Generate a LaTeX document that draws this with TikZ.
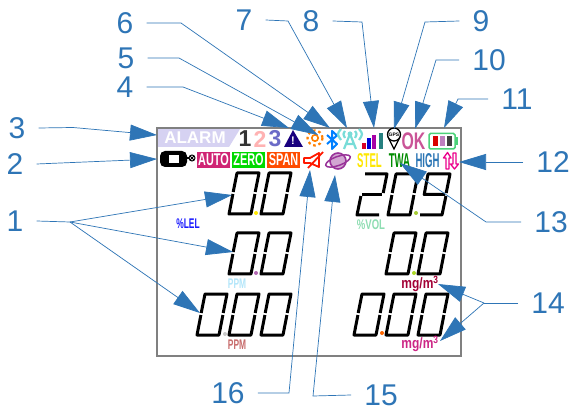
\documentclass[tikz,border=0pt]{standalone}
\usepackage{fontspec}
\setmainfont{Liberation Sans}
\usetikzlibrary{arrows.meta}
\definecolor{leadblue}{HTML}{2E75B6}
\definecolor{alarmbg}{HTML}{D6D2F2}
\definecolor{antenna}{HTML}{78DCD8}
\definecolor{volgreen}{HTML}{8EDDB2}
\newcommand{\fsize}[1]{\fontsize{#1}{#1}\selectfont}
\newcommand{\narrowtxt}[2]{\scalebox{#1}[1]{#2}}
\tikzset{
  numlabel/.style={text=leadblue,font=\fsize{30},inner xsep=13pt,inner ysep=0pt},
  leader/.style={draw=leadblue,line width=.7pt,-{Triangle[length=27pt,width=16pt,fill=leadblue]}},
  lcdseg/.style={draw=black,line width=3pt,line join=round,line cap=butt},
  icontxt/.style={inner sep=0pt},
  statebox/.style={inner sep=0pt,minimum width=33pt,minimum height=15.5pt,text=white,font=\fsize{17}\bfseries},
  pics/lcdzero/.style={code={
    \draw[lcdseg] (3.9,-20) -- (0,0) -- (22,0) -- (25.9,-20);
    \draw[lcdseg] (4.2,-22) -- (8,-41) -- (30,-41) -- (26.2,-22);}},
  pics/lcdtwo/.style={code={
    \draw[lcdseg] (8,-41) -- (30,-41) -- (26.2,-22);
    \draw[lcdseg] (5,-20.5) -- (25,-20.5);
    \draw[lcdseg] (3.9,-19) -- (0,0) -- (22,0);}},
  pics/lcdnine/.style={code={
    \draw[lcdseg] (25,-20.5) -- (4.2,-20.5) -- (8,-41) -- (30,-41) -- (26.2,-22);
    \draw[lcdseg] (25.9,-19) -- (22,0) -- (0,0);}}
}
\begin{document}
\begin{tikzpicture}[x=1pt,y=-1pt]
  \useasboundingbox (0,0) rectangle (572,411);
  \fill[white] (0,0) rectangle (572,411);
  \fill[alarmbg] (158,129) -- (240,129) -- (229,147) -- (158,147) -- cycle;
  \draw[gray,line width=1.3pt] (157,128) rectangle (461,356);
  \node[icontxt,text=white,font=\fsize{17}\bfseries] (alarm) at (195,138) {ALARM};
  \node[icontxt,text=black!80,font=\fsize{23}\bfseries] (one) at (245,139) {1};
  \node[icontxt,text=red!30!white,font=\fsize{23}\bfseries] (two) at (260,139) {2};
  \node[icontxt,text=blue!45!gray!80,font=\fsize{23}\bfseries] (three) at (275,139) {3};
  \fill[blue!55!black!90!red] (293,130) -- (303,147) -- (284,147) -- cycle;
  \node[icontxt,text=white,font=\fsize{11}\bfseries] (warn) at (293,141) {!};
  \draw[orange,line width=2.2pt,dash pattern=on 2.6pt off 2.9pt] (315,138) circle (7.5);
  \draw[orange,line width=1.6pt] (315,138) circle (3.2);
  \draw[blue!50!cyan,line width=2pt,line join=round] (327,135) -- (337,144) -- (332,149) -- (332,131) -- (337,135.5) -- (327,144);
  \draw[antenna,line width=2.2pt] (344,149) -- (350,134) -- (356,149) (346,144) -- (354,144)
    (345,131) .. controls (343,134) .. (345,138) (355,131) .. controls (357,134) .. (355,138)
    (341,129) .. controls (337,134) .. (341,140) (359,129) .. controls (363,134) .. (359,140);
  \fill[antenna] (350,134) circle (2.5);
  \fill[red!85!blue] (361.5,143) rectangle (365.5,149);
  \fill[blue!85!black] (366.5,138) rectangle (370.5,149);
  \fill[violet!70!magenta] (371.5,135) rectangle (375.5,149);
  \fill[teal!70!gray] (379,133) rectangle (383,149);
  \draw[black,line width=1.2pt,fill=white] (388.5,138) -- (394,149) -- (399.5,138) -- cycle;
  \draw[black,line width=1.3pt,fill=white] (394,134.5) circle (6.5);
  \node[icontxt,font=\fsize{5}\bfseries] (gps) at (394,134.5) {GPS};
  \node[icontxt,text=magenta!60!gray,font=\fsize{24}\bfseries] (okay) at (413.5,141) {\narrowtxt{.66}{OK}};
  \draw[teal!50!green!70!white,line width=1.5pt,rounded corners=1.5pt] (429,133.5) rectangle (455,149);
  \fill[teal!50!green!70!white] (455,137) rectangle (458,145);
  \fill[red!85!black] (433,136.5) rectangle (438,146);
  \fill[violet!50!white] (440,136.5) rectangle (445,146);
  \fill[black!75] (447,136.5) rectangle (452,146);
  \fill[black,rounded corners=5pt] (160,151) rectangle (187,167);
  \fill[white] (169,155) rectangle (179,163);
  \draw[black,line width=2pt] (186,158) -- (189,158);
  \draw[black,line width=1pt] (192,158) circle (3) (190,156) -- (194,160) (190,160) -- (194,156);
  \node[statebox,fill=magenta!80!red!85!black] (auto) at (213.5,160) {\narrowtxt{.64}{AUTO}};
  \node[statebox,fill=green!85!black] (zero) at (248.5,160) {\narrowtxt{.64}{ZERO}};
  \node[statebox,fill=orange!60!red] (span) at (283.5,160) {\narrowtxt{.64}{SPAN}};
  \draw[red!80!orange,line width=1.8pt,line join=round] (304,158) -- (310,158) -- (319,153) -- (319,167) -- (310,163) -- (304,163) -- cycle (308,168) -- (323,152);
  \draw[violet!80!white,line width=1.6pt,fill=violet!35!white] (338,161) circle (8);
  \draw[violet!80!white,line width=1.5pt,rotate around={20:(338,161)}] (338,161) ellipse (13 and 4.5);
  \node[icontxt,text=yellow!90!orange,font=\fsize{20}\bfseries] (stel) at (369.5,161) {\narrowtxt{.48}{STEL}};
  \node[icontxt,text=green!55!black,font=\fsize{20}\bfseries] (twa) at (399.5,161) {\narrowtxt{.48}{TWA}};
  \node[icontxt,text=cyan!60!blue!85!black,font=\fsize{20}\bfseries] (high) at (427.5,161) {\narrowtxt{.48}{HIGH}};
  \draw[magenta,line width=1.3pt,line join=round]
    (446,169) -- (446,158) -- (443.5,158) -- (447.5,152.5) -- (451,158) -- (449,158) -- (449,169) -- cycle
    (453,153) -- (453,164) -- (450.5,164) -- (454.5,169) -- (458.5,164) -- (456,164) -- (456,153) -- cycle;

  \pic at (229,214) {lcdzero};
  \pic at (261,214) {lcdzero};
  \pic at (229,274) {lcdzero};
  \pic at (261,274) {lcdzero};
  \pic at (197,335) {lcdzero};
  \pic at (229,335) {lcdzero};
  \pic at (261,335) {lcdzero};
  \pic at (357,215) {lcdtwo};
  \pic at (388,215) {lcdzero};
  \pic at (420,215) {lcdnine};
  \pic at (386,274) {lcdzero};
  \pic at (418,274) {lcdzero};
  \pic at (354,335) {lcdzero};
  \pic at (386,335) {lcdzero};
  \pic at (418,335) {lcdzero};
  \fill[yellow!90!orange] (256,213) circle (2);
  \fill[violet!60!white] (256,273) circle (2);
  \fill[black!22] (225,334) circle (2);
  \fill[lime!60!gray] (416,213) circle (2);
  \fill[lime!70!gray] (414,273) circle (2);
  \fill[orange!80!red] (382,333) circle (2);

  \node[icontxt,text=blue!90!white,font=\fsize{14}\bfseries] (lel) at (188,224) {\narrowtxt{.6}{\%LEL}};
  \node[icontxt,text=cyan!30!white,font=\fsize{14}\bfseries] (ppma) at (237,284) {\narrowtxt{.6}{PPM}};
  \node[icontxt,text=red!45!gray!80,font=\fsize{14}\bfseries] (ppmb) at (237,345) {\narrowtxt{.6}{PPM}};
  \node[icontxt,text=volgreen,font=\fsize{14}\bfseries] (vol) at (371,225) {\narrowtxt{.68}{\%VOL}};
  \node[icontxt,text=purple!85!black,font=\fsize{15}\bfseries] (mgma) at (420,284) {\narrowtxt{.8}{mg/m\textsuperscript{3}}};
  \node[icontxt,text=magenta!65!violet,font=\fsize{15}\bfseries] (mgmb) at (420,344) {\narrowtxt{.8}{mg/m\textsuperscript{3}}};

  \node[numlabel] (lab1) at (15,221) {1};
  \node[numlabel] (lab2) at (15,164) {2};
  \node[numlabel] (lab3) at (17,128) {3};
  \node[numlabel] (lab4) at (125,87) {4};
  \node[numlabel] (lab5) at (126,58) {5};
  \node[numlabel] (lab6) at (125,23) {6};
  \node[numlabel] (lab7) at (244,20) {7};
  \node[numlabel] (lab8) at (311,21) {8};
  \node[numlabel] (lab9) at (481,21) {9};
  \node[numlabel] (lab10) at (489,60) {10};
  \node[numlabel] (lab11) at (517,99) {11};
  \node[numlabel] (lab12) at (553,162) {12};
  \node[numlabel] (lab13) at (551,222) {13};
  \node[numlabel] (lab14) at (548,303) {14};
  \node[numlabel] (lab15) at (381,395) {15};
  \node[numlabel] (lab16) at (228,393) {16};

  \coordinate (bend1) at (70,222);
  \coordinate (bend14) at (484,303);
  \draw[leadblue,line width=.7pt] (lab1.east) -- (bend1);
  \draw[leader] (bend1) -- (232,195);
  \draw[leader] (bend1) -- (233,252);
  \draw[leader] (bend1) -- (200,313);
  \draw[leader] (lab2.east) -- (157,159);
  \draw[leader] (lab3.east) -- (73,127.5) -- (157,135);
  \draw[leader] (lab4.east) -- (183,87) -- (289,128);
  \draw[leader] (lab5.east) -- (179,58) -- (318,135);
  \draw[leader] (lab6.east) -- (181,23) -- (330,128);
  \draw[leader] (lab7.east) -- (288,21) -- (347,128);
  \draw[leader] (lab8.east) -- (362,22) -- (374,128);
  \draw[leader] (lab9.west) -- (425,22) -- (394,129);
  \draw[leader] (lab10.west) -- (436,60) -- (415,129);
  \draw[leader] (lab11.west) -- (458,99) -- (444,128);
  \draw[leader] (lab12.west) -- (459,162);
  \draw[leader] (lab13.west) -- (486,222) -- (400,163);
  \draw[leadblue,line width=.7pt] (lab14.west) -- (bend14);
  \draw[leader] (bend14) -- (438,284);
  \draw[leader] (bend14) -- (440,341);
  \draw[leader] (lab15.west) -- (313,396) -- (335,175);
  \draw[leader] (lab16.east) -- (289,393) -- (310,170);
\end{tikzpicture}
\end{document}
